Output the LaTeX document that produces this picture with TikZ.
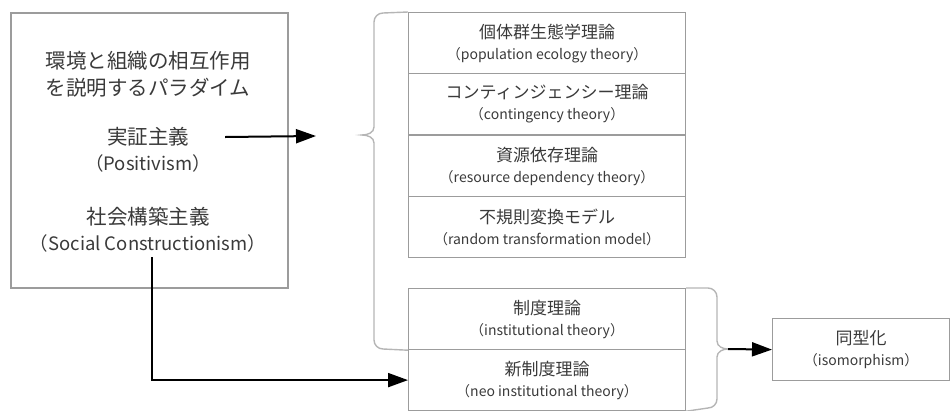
\documentclass[tikz,border=0pt]{standalone}
\usepackage{fontspec}
\setmainfont{Noto Sans CJK JP}
\usetikzlibrary{arrows.meta}
\definecolor{txt}{HTML}{3A3A3A}
\definecolor{boxline}{HTML}{9C9C9C}
\definecolor{bracec}{HTML}{B5B5B5}
\newcommand\bigjp{\fontsize{20.5pt}{27pt}\selectfont}
\newcommand\bigen{\fontsize{18.5pt}{26pt}\selectfont}
\newcommand\smjp{\fontsize{17pt}{21pt}\selectfont}
\newcommand\smen{\fontsize{14pt}{21pt}\selectfont}
\begin{document}
\begin{tikzpicture}[x=1pt,y=-1pt,
  paradigmbox/.style={draw=boxline, line width=1.5pt, inner sep=0pt, anchor=north west},
  theory/.style={draw=boxline, line width=1.2pt, minimum width=277pt, minimum height=61pt,
    inner sep=0pt, align=center, text=txt, anchor=north west, font=\smen},
  label/.style={text=txt, inner sep=0pt, align=center},
  arr/.style={line width=2pt, -{Triangle[length=20pt,width=14pt]}},
  bracestyle/.style={draw=bracec, line width=1.4pt},
]
\useasboundingbox (0,0) rectangle (952,410);
% paradigm box
\node[paradigmbox, minimum width=277pt, minimum height=275pt] (para) at (10,12) {};
\node[label, font=\bigjp] (title) at (148,74) {環境と組織の相互作用\\を説明するパラダイム};
\node[label, font=\bigjp] (jissho) at (148,137) {実証主義};
\node[label, font=\bigen] (posi) at (148,163) {（Positivism）};
\node[label, font=\bigjp] (shakai) at (148,217) {社会構築主義};
\node[label, font=\bigen] (socen) at (148,243) {（Social Constructionism）};
% theory stack
\node[theory] (pop) at (408,12) {{\smjp 個体群生態学理論}\\（population ecology theory）};
\node[theory] (cont) at (408,73) {{\smjp コンティンジェンシー理論}\\（contingency theory）};
\node[theory] (res) at (408,135) {{\smjp 資源依存理論}\\（resource dependency theory）};
\node[theory] (rand) at (408,196) {{\smjp 不規則変換モデル}\\（random transformation model）};
\node[theory] (inst) at (408,288) {{\smjp 制度理論}\\（institutional theory）};
\node[theory] (neo) at (408,349) {{\smjp 新制度理論}\\（neo institutional theory）};
% isomorphism
\node[theory, minimum width=177pt, minimum height=62pt] (iso) at (772,318) {{\smjp 同型化}\\（isomorphism）};
% braces
\coordinate (ltip) at (362,135);
\draw[bracestyle] (pop.north west) -- (383,13) to[out=180,in=90] (374,22) -- (374,127)
  to[out=-90,in=0] (ltip) to[out=0,in=90] (374,143) -- (374,340)
  to[out=-90,in=180] (383,349) -- (inst.south west);
\coordinate (rtip) at (728,349);
\draw[bracestyle] (inst.north east) -- (708,288) to[out=0,in=90] (717,297) -- (717,341)
  to[out=-90,in=180] (rtip) to[out=180,in=90] (717,357) -- (717,399)
  to[out=-90,in=0] (708,408) -- (neo.south east);
% arrows
\coordinate (a1end) at (316,136);
\draw[arr] ([xshift=36pt]jissho.east) -- (a1end);
\draw[arr] ([xshift=4pt,yshift=-5pt]socen.south) |- (neo.west);
\draw[arr] (rtip) -- (iso.west);
\end{tikzpicture}
\end{document}
